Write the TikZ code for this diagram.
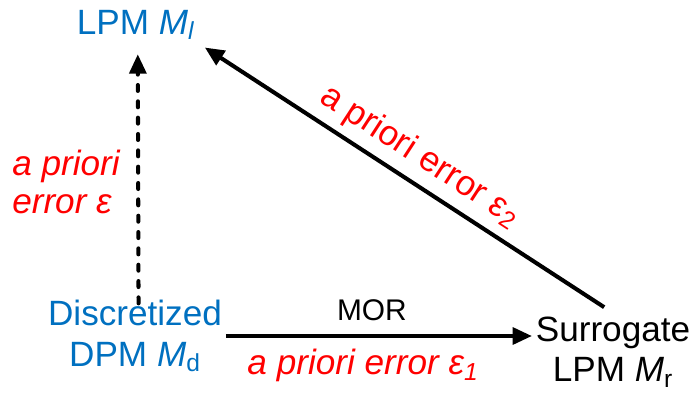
\documentclass[tikz,border=0pt]{standalone}
\usepackage{fontspec}
\setmainfont{Liberation Sans}
\usepackage{tikz}
\usetikzlibrary{arrows.meta, positioning}
\definecolor{modelblue}{HTML}{0070C0}
\definecolor{errred}{HTML}{FF0000}

\begin{document}
\begin{tikzpicture}[x=0.02cm, y=-0.02cm, >={Triangle[length=11pt, width=9.5pt]},
  model/.style={align=center, inner sep=2pt, font=\fontsize{20}{23}\selectfont},
  errlabel/.style={text=errred, font=\fontsize{20}{20}\selectfont\itshape},
  link/.style={->, line width=2.3pt}]
  \useasboundingbox (0,0) rectangle (695,392);
  % Modely
  \node[model, text=modelblue] (lpm) at (136,25) {LPM \textit{M}\textsubscript{\textit{l}}};
  \node[model, text=modelblue] (dpm) at (135,336) {Discretized\\DPM \textit{M}\textsubscript{d}};
  \node[model] (sur) at (613,352) {Surrogate\\LPM \textit{M}\textsubscript{r}};
  % Sipky
  \draw[link, line cap=round, dash pattern=on 3.4pt off 5.9pt, shorten <=-4pt, shorten >=6pt]
    ([xshift=2pt]dpm.north) -- ([xshift=1pt]lpm.south)
    node[midway, left=6pt, errlabel, align=left, yshift=-7pt, font=\fontsize{20}{21.5}\selectfont\itshape] {a priori\\error ε};
  \draw[link] (dpm.east) -- (dpm.east -| sur.west)
    node[midway, above=4pt, xshift=-4pt, font=\fontsize{17}{20}\selectfont] {MOR}
    node[midway, below=3pt, xshift=-9pt, errlabel] {a priori error ε\textsubscript{1}};
  \draw[link, <-, shorten <=4pt, shorten >=6pt] (lpm.south east) -- (sur.north)
    node[midway, sloped, above=1pt, errlabel, font=\fontsize{20}{20}\selectfont\upshape] {a priori error ε\textsubscript{2}};
\end{tikzpicture}
\end{document}
